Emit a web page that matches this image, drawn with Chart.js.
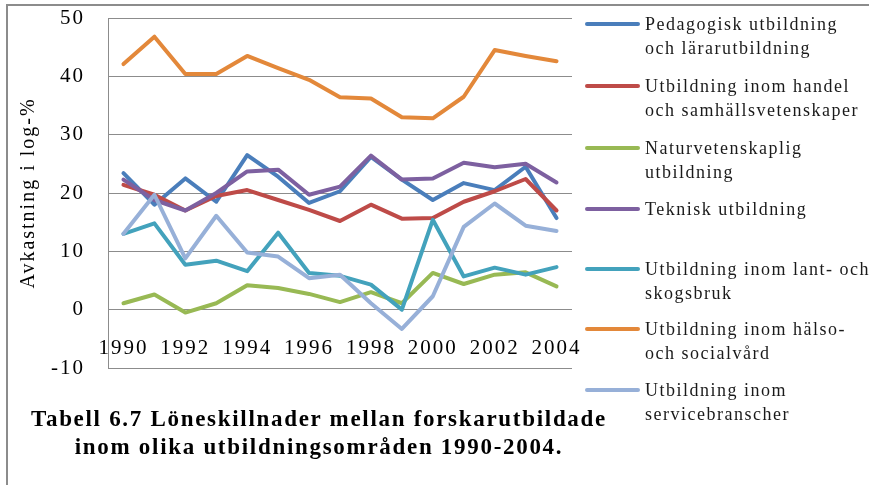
<!DOCTYPE html>
<html>
<head>
<meta charset="utf-8">
<script src="https://cdn.jsdelivr.net/npm/chart.js@4.4.0/dist/chart.umd.min.js"></script>
<style>
body { margin: 0; background: #fff; }
#wrap { position: relative; width: 869px; height: 485px; overflow: hidden; font-family: 'Liberation Serif', 'Times New Roman', serif; }
#frame { position: absolute; left: 6px; top: 4px; width: 900px; height: 520px; border: 2px solid #8c8c8c; box-sizing: border-box; }
#myChart { position: absolute; left: 0; top: 0; }
.swatch { position: absolute; left: 585px; width: 55px; height: 4px; border-radius: 2px; }
.txt { position: absolute; left: 645px; font-size: 18px; line-height: 24px; letter-spacing: 1.5px; color: #1a1a1a; white-space: nowrap; }
#titel { position: absolute; left: 0; width: 638px; top: 405px; text-align: center; font-weight: bold; font-size: 23px; line-height: 28px; letter-spacing: 1.7px; color: #000; white-space: nowrap; }
</style>
</head>
<body>
<div id="wrap">
  <div id="frame"></div>
  <canvas id="myChart" width="869" height="485"></canvas>
  <div id="legend"></div>
  <div id="titel">Tabell 6.7 Löneskillnader mellan forskarutbildade<br>inom olika utbildningsområden 1990-2004.</div>
</div>
<script>
'use strict';

// data
const years = ['1990','1991','1992','1993','1994','1995','1996','1997','1998','1999','2000','2001','2002','2003','2004'];
const pedagogik = [23.4, 18.0, 22.5, 18.5, 26.5, 22.8, 18.3, 20.3, 26.2, 22.3, 18.8, 21.7, 20.5, 24.5, 15.7];
const handel    = [21.4, 19.7, 17.0, 19.5, 20.5, 18.8, 17.1, 15.2, 18.0, 15.6, 15.7, 18.5, 20.3, 22.4, 17.0];
const natur     = [1.1, 2.6, -0.5, 1.1, 4.2, 3.7, 2.7, 1.3, 3.0, 1.1, 6.3, 4.4, 6.0, 6.4, 4.0];
const teknik    = [22.3, 18.8, 17.0, 20.0, 23.7, 24.0, 19.7, 21.1, 26.4, 22.3, 22.5, 25.2, 24.4, 25.0, 21.8];
const lant      = [13.0, 14.8, 7.7, 8.4, 6.6, 13.2, 6.3, 5.8, 4.3, 0.0, 15.4, 5.7, 7.2, 6.0, 7.3];
const halso     = [42.1, 46.8, 40.4, 40.4, 43.5, 41.4, 39.4, 36.4, 36.2, 33.0, 32.8, 36.5, 44.5, 43.5, 42.6];
const service   = [13.0, 19.7, 8.8, 16.1, 9.8, 9.1, 5.4, 6.0, 1.1, -3.3, 2.3, 14.2, 18.2, 14.4, 13.5];
const seriesNames = [
    ['Pedagogisk utbildning', 'och lärarutbildning'],
    ['Utbildning inom handel', 'och samhällsvetenskaper'],
    ['Naturvetenskaplig', 'utbildning'],
    ['Teknisk utbildning'],
    ['Utbildning inom lant- och', 'skogsbruk'],
    ['Utbildning inom hälso-', 'och socialvård'],
    ['Utbildning inom', 'servicebranscher']
];
const yTicks = { min: -10, max: 50, step: 10 };

const colors = ['#4a7ebb', '#be4b48', '#98b954', '#7d60a0', '#43a2bc', '#e3883a', '#97b0d8'];
const values = [pedagogik, handel, natur, teknik, lant, halso, service];
const legendY = [24, 86, 148, 209, 269, 329, 390];

const serif = "'Liberation Serif', 'Times New Roman', serif";

// legend (html)
let legend = document.getElementById('legend');
seriesNames.forEach(function (name, i) {
    let sw = document.createElement('div');
    sw.className = 'swatch';
    sw.style.top = (legendY[i] - 2) + 'px';
    sw.style.background = colors[i];
    legend.appendChild(sw);
    let t = document.createElement('div');
    t.className = 'txt';
    t.style.top = (legendY[i] - 12) + 'px';
    t.innerHTML = name.join('<br>');
    legend.appendChild(t);
});

let datasets = values.map(function (v, i) {
    return {
        label: seriesNames[i].join(' '),
        data: v,
        borderColor: colors[i],
        backgroundColor: colors[i],
        borderWidth: 4,
        pointRadius: 0,
        tension: 0,
        borderJoinStyle: 'round',
        borderCapStyle: 'round',
        order: values.length - i   // last series on top, like Excel
    };
});

// wider letter spacing on canvas text (old Excel look)
const spacing = {
    id: 'spacing',
    beforeUpdate: function (chart) { chart.ctx.letterSpacing = '2px'; },
    beforeDraw: function (chart) { chart.ctx.letterSpacing = '2px'; }
};

let ctx = document.getElementById('myChart').getContext('2d');
let myChart = new Chart(ctx, {
    type: 'line',
    data: { labels: years, datasets: datasets },
    plugins: [spacing],
    options: {
        responsive: false,
        animation: false,
        devicePixelRatio: 1,
        layout: { padding: { left: 14, top: 18, right: 297, bottom: 117 } },
        plugins: { legend: { display: false }, tooltip: { enabled: false } },
        scales: {
            x: {
                position: { y: 0 },
                offset: true,
                grid: { display: false },
                border: { display: false },
                ticks: {
                    autoSkip: false,
                    maxRotation: 0,
                    padding: 18,
                    color: '#000',
                    font: { family: serif, size: 21 },
                    callback: function (v, i) { return i % 2 === 0 ? years[i] : ''; }
                },
                afterFit: function (s) { s.height = 0; }
            },
            y: {
                min: yTicks.min,
                max: yTicks.max,
                ticks: { stepSize: yTicks.step, padding: 23, color: '#000', font: { family: serif, size: 21 } },
                grid: { color: '#8c8c8c', drawTicks: false },
                border: { color: '#8c8c8c' },
                title: {
                    display: true,
                    text: 'Avkastning i log-%',
                    color: '#000',
                    font: { family: serif, size: 20 },
                    padding: { top: 3, bottom: 0 }
                },
                afterFit: function (s) {
                    s.width = 94;
                    s.paddingTop = 10;
                    s.paddingBottom = 10;
                }
            }
        }
    }
});
</script>
</body>
</html>
